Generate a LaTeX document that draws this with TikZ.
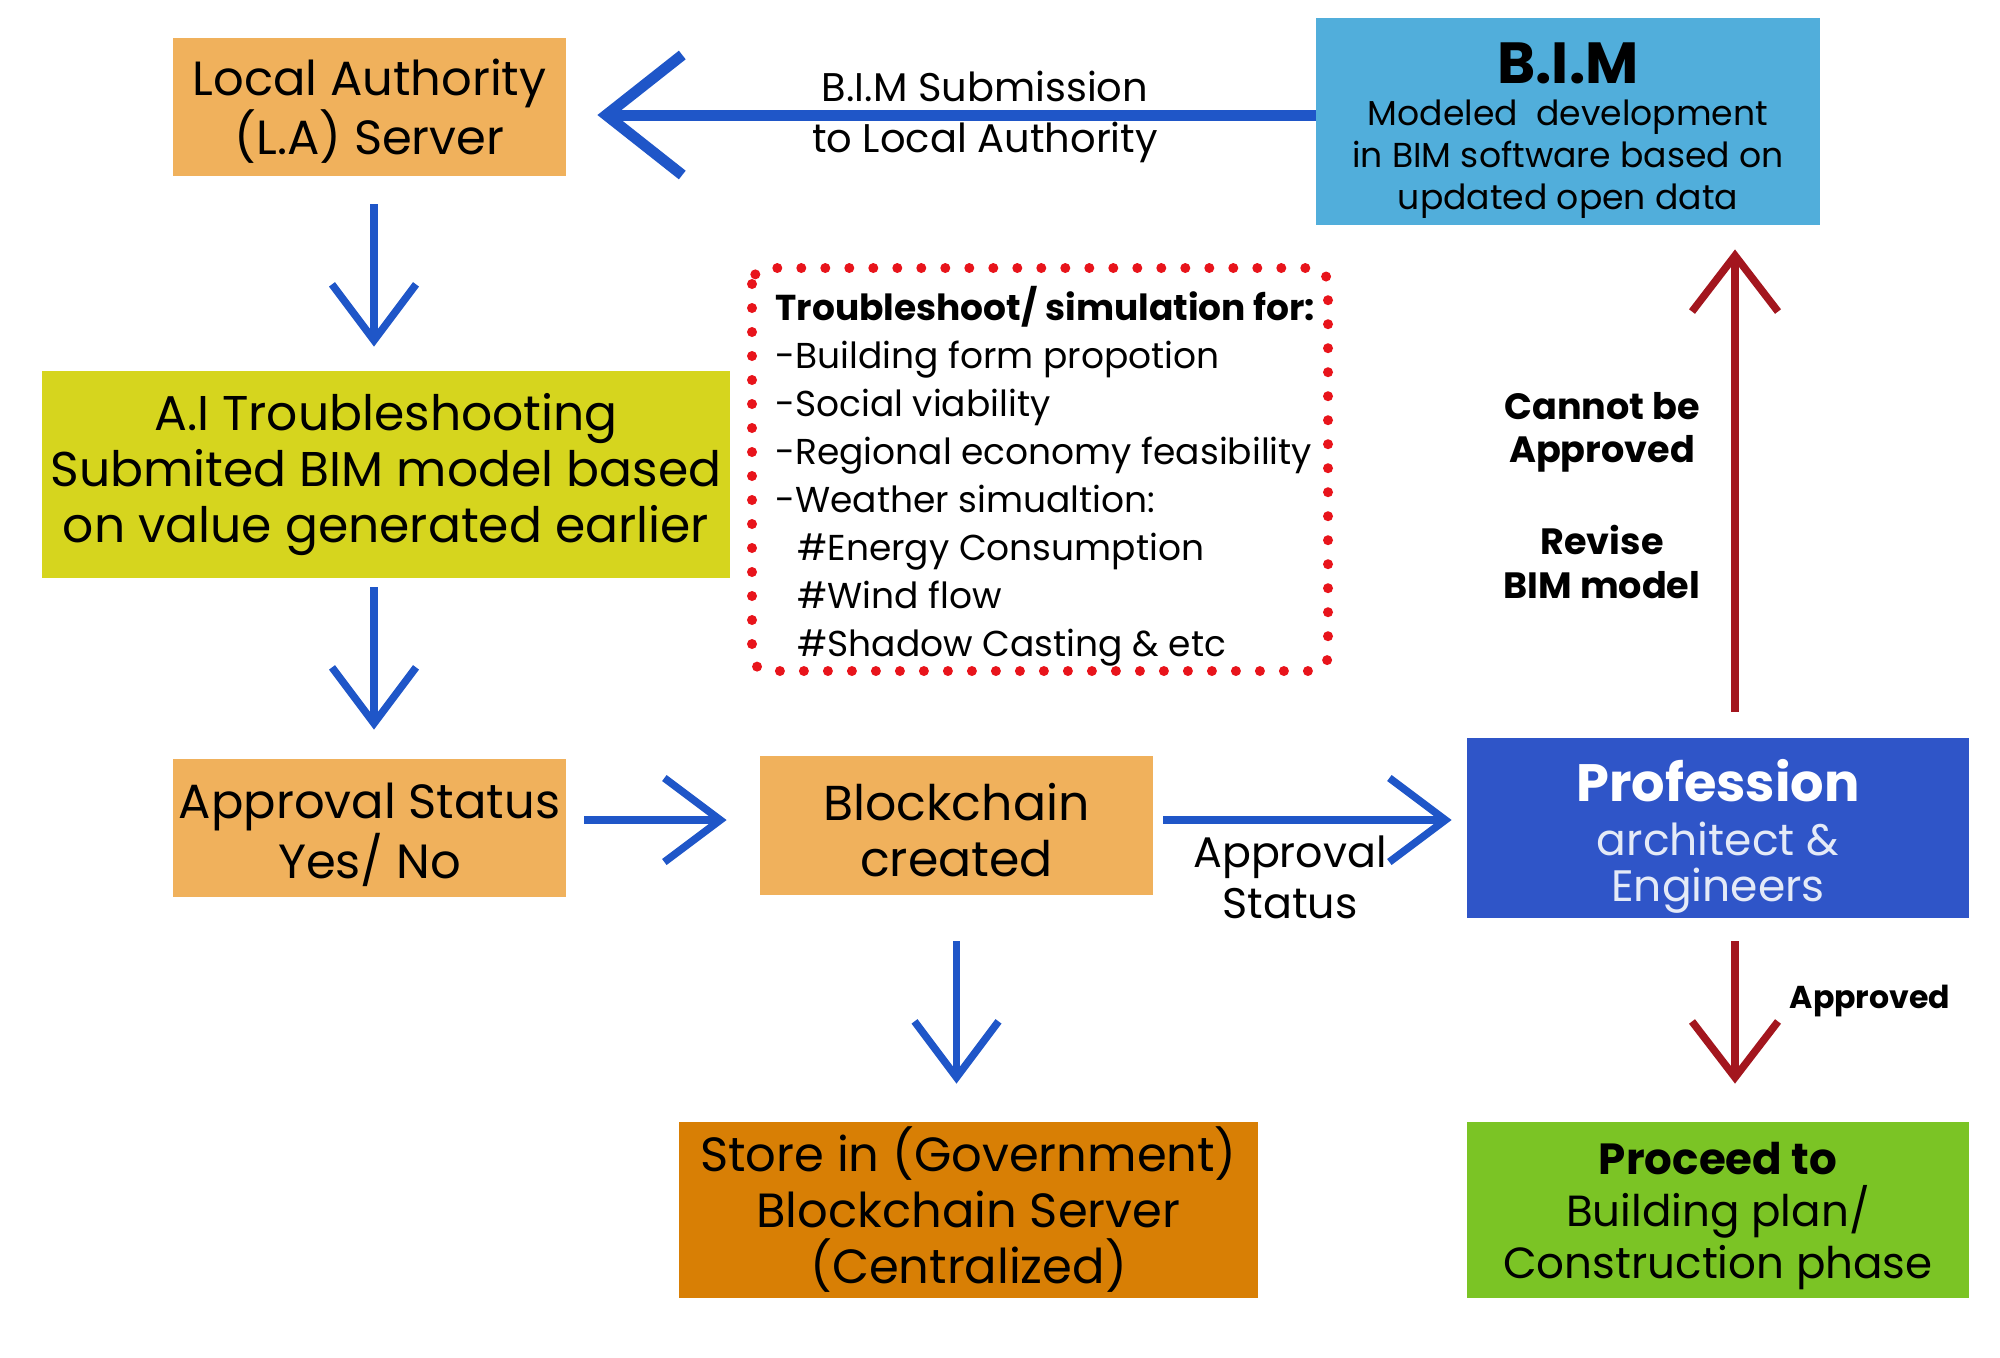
\documentclass[tikz,border=0pt]{standalone}
\usepackage{fontspec}
\setmainfont{Poppins}
\usetikzlibrary{arrows.meta}
\definecolor{lorange}{HTML}{F0B15C}
\definecolor{bimblue}{HTML}{51AEDB}
\definecolor{aiyellow}{HTML}{D6D51E}
\definecolor{profblue}{HTML}{2F55C8}
\definecolor{storeor}{HTML}{D87F05}
\definecolor{procgreen}{HTML}{7BC425}
\definecolor{arrblue}{HTML}{1F56C8}
\definecolor{arrred}{HTML}{A3161E}
\definecolor{dotred}{HTML}{E8141B}
\definecolor{proflight}{HTML}{E4EAF7}
\tikzset{
  box/.style={inner sep=0pt, align=center, text=black},
  barrow/.style={draw=arrblue, line width=3.75pt,
    -{Straight Barb[length=28pt,width=42pt,line cap=butt,line join=miter]}},
  bigarrow/.style={draw=arrblue, line width=5.5pt,
    -{Straight Barb[length=38pt,width=60pt,line cap=butt,line join=miter]}},
  rarrow/.style={draw=arrred, line width=3.75pt,
    -{Straight Barb[length=28pt,width=43pt,line cap=butt,line join=miter]}},
  lbl/.style={inner sep=0pt, align=center, text=black}
}
\begin{document}
\begin{tikzpicture}[x=0.5pt,y=-0.5pt]
\useasboundingbox (0,0) rectangle (2000,1357);
\fill[white] (0,0) rectangle (2000,1357);

% boxes
\node[box, fill=lorange, minimum width=196.5pt, minimum height=69pt] (LA) at (369.5,107) {};
\node[lbl, font=\fontsize{24}{28}\selectfont] (LAt) at (369.5,111) {Local Authority\\(L.A) Server};

\node[box, fill=bimblue, minimum width=252pt, minimum height=103.5pt] (BIM) at (1568,121.5) {};
\node[lbl, font=\fontsize{17.3}{21}\selectfont] (BIMt) at (1568,130.5)
  {{\fontsize{29}{30}\selectfont\bfseries B.I.M}\\
   Modeled\ \ development\\in BIM software based on\\updated open data};

\node[box, fill=aiyellow, minimum width=344pt, minimum height=103.5pt,
  font=\fontsize{24.4}{28}\selectfont] (AI) at (386,474.5)
  {A.I Troubleshooting\\Submited BIM model based\\on value generated earlier};

\node[box, fill=lorange, minimum width=196.5pt, minimum height=69pt] (AP) at (369.5,828) {};
\node[lbl, font=\fontsize{24}{28}\selectfont] (APt) at (369.5,835) {Approval Status\\Yes/ No};

\node[box, fill=lorange, minimum width=196.5pt, minimum height=69.5pt] (BC) at (956.5,825.5) {};
\node[lbl, font=\fontsize{24.5}{28}\selectfont] (BCt) at (956.5,830.5) {Blockchain\\created};

\node[box, fill=profblue, minimum width=251pt, minimum height=90pt] (PR) at (1718,828) {};
\node[lbl, font=\fontsize{22}{23}\selectfont, text=proflight] (PRt) at (1718,836)
  {{\fontsize{26.3}{28}\selectfont\bfseries\color{white} Profession}\\[4pt]
   architect \&\\Engineers};

\node[box, fill=storeor, minimum width=289.5pt, minimum height=88pt,
  font=\fontsize{24}{28}\selectfont] (ST) at (968.5,1210)
  {Store in (Government)\\Blockchain Server\\(Centralized)};

\node[box, fill=procgreen, minimum width=251pt, minimum height=88pt] (PC) at (1718,1210) {};
\node[lbl, font=\fontsize{21.8}{26}\selectfont] (PCt) at (1718,1216)
  {\textbf{Proceed to}\\Building plan/\\Construction phase};

% dotted box
\draw[dotred, line width=5pt, line cap=round, dash pattern=on 0pt off 12pt, rounded corners=8pt]
  (752,268) rectangle (1328,671);
\node[lbl, align=left, anchor=west, font=\fontsize{18}{24}\selectfont] (TS) at (775,476)
  {\textbf{Troubleshoot/ simulation for:}\\
   -Building form propotion\\
   -Social viability\\
   -Regional economy feasibility\\
   -Weather simualtion:\\
   \hspace*{11pt}\#Energy Consumption\\
   \hspace*{11pt}\#Wind flow\\
   \hspace*{11pt}\#Shadow Casting \& etc};

% labels
\node[lbl, font=\fontsize{20}{25.5}\selectfont] (L1) at (985,117) {B.I.M Submission\\to Local Authority};
\node[lbl, font=\fontsize{21.4}{25.5}\selectfont] (L2) at (1290,877) {Approval\\Status};
\node[lbl, font=\fontsize{18.3}{21.5}\selectfont\bfseries] (L3) at (1602,432) {Cannot be\\Approved};
\node[lbl, font=\fontsize{18.3}{22}\selectfont\bfseries] (L4) at (1602,562) {Revise\\BIM model};
\node[lbl, font=\fontsize{15.8}{18}\selectfont\bfseries] (L5) at (1870,1001) {Approved};

% connectors
\coordinate (rx) at (1735,0);
\coordinate (cx) at (374,0);
\draw[bigarrow, shorten >=15.5pt] ([yshift=3.25pt]BIM.west) -- ([yshift=3.25pt]BIM.west -| LA.east);
\draw[barrow, shorten <=14pt, shorten >=12pt] (LA.south -| cx) -- (AI.north -| cx);
\draw[barrow, shorten <=4.5pt, shorten >=14.5pt] (AI.south -| cx) -- (AP.north -| cx);
\draw[barrow, shorten <=9pt, shorten >=16.5pt] ([yshift=4pt]AP.east) -- ([yshift=4pt]AP.east -| BC.west);
\draw[barrow, shorten <=5pt, shorten >=7.5pt] ([yshift=2.75pt]BC.east) -- ([yshift=2.75pt]BC.east -| PR.west);
\draw[barrow, shorten <=23pt, shorten >=19pt] (BC.south) -- (BC.south |- ST.north);
\draw[rarrow, shorten <=13pt, shorten >=12pt] (PR.north -| rx) -- (BIM.south -| rx);
\draw[rarrow, shorten <=11.5pt, shorten >=19pt] (PR.south -| rx) -- (PC.north -| rx);
\end{tikzpicture}
\end{document}
